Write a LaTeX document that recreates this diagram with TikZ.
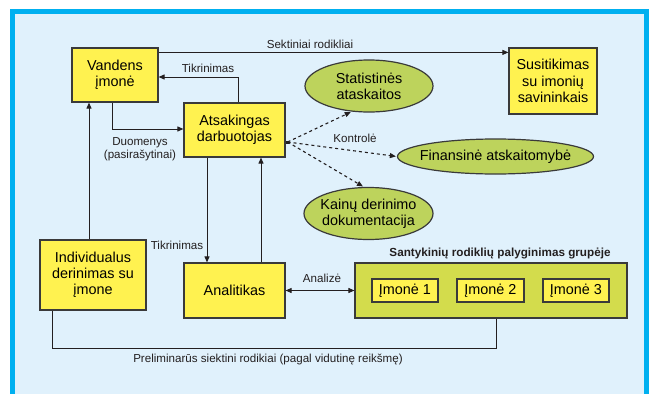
\documentclass[tikz,border=0pt]{standalone}
\usepackage{fontspec}
\setmainfont{Liberation Sans}
\usetikzlibrary{arrows.meta,shapes.geometric}

\definecolor{frameblue}{HTML}{00B0F0}
\definecolor{paleblue}{HTML}{E0F1FC}
\definecolor{boxyellow}{HTML}{FFF250}
\definecolor{leafgreen}{HTML}{BDD35C}
\definecolor{groupolive}{HTML}{D3DC4C}
\definecolor{ink}{HTML}{231F20}
\definecolor{edge}{HTML}{3A3A3A}

\begin{document}
\begin{tikzpicture}[x=1pt,y=-1pt,
  box/.style={draw=edge, line width=1.2pt, fill=boxyellow, align=center, inner sep=2pt,
    font=\fontsize{14.4}{16.2}\selectfont},
  oval/.style={ellipse, draw=edge, line width=1.2pt, fill=leafgreen, align=center, inner sep=0pt,
    font=\fontsize{14.4}{16.2}\selectfont},
  small/.style={box, inner sep=1pt},
  lbl/.style={align=center, text=ink, font=\fontsize{11.6}{13}\selectfont, inner sep=0pt},
  link/.style={draw=ink, line width=0.9pt},
  arr/.style={link, -{Triangle[length=6pt,width=5pt]}},
  arrboth/.style={link, {Triangle[length=6pt,width=5pt]}-{Triangle[length=6pt,width=5pt]}},
  dotarr/.style={draw=ink, line width=1.1pt, dash pattern=on 3pt off 3pt,
    -{Triangle[length=6pt,width=5pt]}, shorten >=1pt}
]
\useasboundingbox (0,0) rectangle (649,394);

% panel with its blue frame (open at the bottom)
\fill[paleblue] (12,11) rectangle (649,394);
\draw[frameblue, line width=5pt] (12,394) -- (12,11) -- (646.5,11) -- (646.5,394);

% boxes
\node[box, minimum width=86pt, minimum height=54pt] (vand) at (115,75) {Vandens\\įmonė};
\node[box, minimum width=101pt, minimum height=54pt] (atsak) at (234.5,130) {Atsakingas\\darbuotojas};
\node[box, minimum width=88pt, minimum height=66pt] (sus) at (553,81) {Susitikimas\\su imonių\\savininkais};
\node[box, minimum width=106pt, minimum height=70pt] (indiv) at (93,275) {Individualus\\derinimas su\\įmone};
\node[box, minimum width=101pt, minimum height=55pt] (analit) at (234.5,290.5) {Analitikas};

% group comparison
\node[draw=edge, line width=1.2pt, fill=groupolive, minimum width=272pt, minimum height=55pt] (group) at (491,290.5) {};
\node[font=\bfseries\fontsize{11.7}{13}\selectfont, text=ink, inner sep=0pt] (grouptitle) at (500,253) {Santykinių rodiklių palyginimas grupėje};
\node[small, minimum width=66pt, minimum height=23pt] (im1) at (405,290.5) {Įmonė 1};
\node[small, minimum width=67pt, minimum height=23pt] (im2) at (490.5,290.5) {Įmonė 2};
\node[small, minimum width=66pt, minimum height=23pt] (im3) at (576,290.5) {Įmonė 3};

% reports (negative x-padding keeps the ellipses as slim as drawn)
\node[oval, minimum width=128pt, minimum height=52pt] (stat) at (369,86) {Statistinės\\ataskaitos};
\node[oval, inner xsep=-8pt, minimum width=196pt, minimum height=35pt] (fin) at (495.5,156.5) {Finansinė atskaitomybė};
\node[oval, inner xsep=-5pt, minimum width=129pt, minimum height=52pt] (kain) at (368.5,213.5) {Kainų derinimo\\dokumentacija};

% helper points
\coordinate (s1) at ([yshift=-5pt]vand.north east);
\coordinate (t1) at ([xshift=3.5pt]atsak.north);
\coordinate (t2) at ([yshift=-2pt]vand.east);
\coordinate (d1) at ([xshift=-3pt]vand.south);
\coordinate (d2) at ([yshift=1pt]atsak.west);
\coordinate (v1) at ([xshift=-27.5pt]atsak.south);
\coordinate (v2) at ([xshift=-27.5pt]analit.north);
\coordinate (u1) at ([xshift=26.5pt]analit.north);
\coordinate (u2) at ([xshift=26.5pt]atsak.south);
\coordinate (i1) at ([xshift=-4pt]indiv.north);
\coordinate (i2) at ([xshift=-26pt]vand.south);
\coordinate (p1) at ([xshift=-41pt]indiv.south);
\coordinate (p2) at ([xshift=5pt]group.south);
\coordinate (k0) at ([shift={(2pt,-12pt)}]atsak.east);

% connectors
\draw[arr] (s1) -- (s1 -| sus.west);
\node[lbl] (lsek) at (310,44) {Sektiniai rodikliai};

\draw[arr] (t1) |- (t2);
\node[lbl] (ltik1) at (208,68) {Tikrinimas};

\draw[arr] (d1) |- (d2);
\node[lbl] (ldu) at (140,149) {Duomenys\\(pasirašytinai)};

\draw[arr] (v1) -- (v2);
\node[lbl] (ltik2) at (177,245) {Tikrinimas};
\draw[arr] (u1) -- (u2);

\draw[arr] (i1) -- (i2);

\draw[arrboth] (analit.east) -- (group.west);
\node[lbl] (lan) at (322,278) {Analizė};

\fill[ink] (k0) ++(-1.5pt,-1.5pt) rectangle ++(3pt,3pt);
\draw[dotarr] (k0) -- (stat.-124);
\draw[dotarr] (k0) -- (fin.west);
\draw[dotarr] (k0) -- (kain.100);
\node[lbl] (lkon) at (355,138) {Kontrolė};

\draw[link] (p1) -- ++(0,38) -| (p2);
\node[lbl] (lpre) at (268,359) {Preliminarūs siektini rodikiai (pagal vidutinę reikšmę)};
\end{tikzpicture}
\end{document}
